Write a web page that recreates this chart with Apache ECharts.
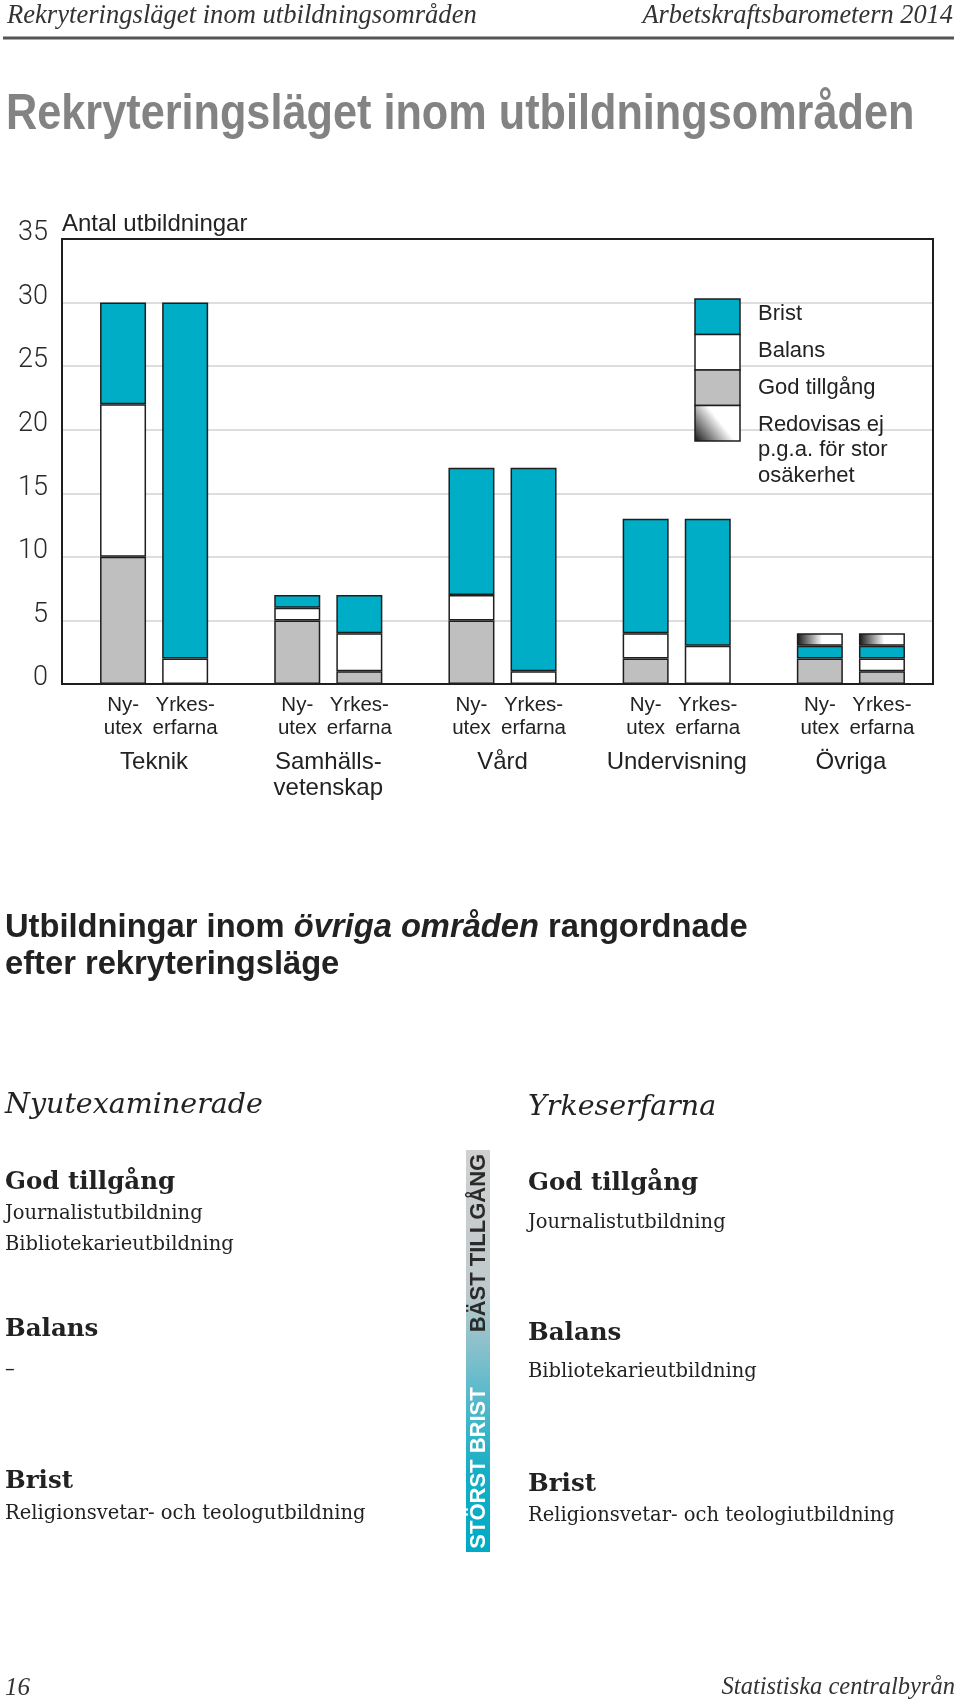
<!DOCTYPE html>
<html><head><meta charset="utf-8">
<script src="https://cdn.jsdelivr.net/npm/echarts@6/dist/echarts.min.js"></script>
<style>html,body{margin:0;padding:0;background:#fff}#c{width:960px;height:1705px}</style>
</head><body><div id="c"></div>
<script>
// ---------- data ----------
const categories = ['Teknik', 'Samhälls-\nvetenskap', 'Vård', 'Undervisning', 'Övriga'];
const subLabels = ['Ny-\nutex', 'Yrkes-\nerfarna'];
const yTicks = [0, 5, 10, 15, 20, 25, 30, 35];
// Nyutexaminerade (bottom -> top)
const nyGod    = [10, 5, 5, 2, 2];
const nyBalans = [12, 1, 2, 2, 0];
const nyBrist  = [8, 1, 10, 9, 1];
const nyRedov  = [0, 0, 0, 0, 1];
// Yrkeserfarna (bottom -> top)
const yrGod    = [0, 1, 0, 0, 1];
const yrBalans = [2, 3, 1, 3, 1];
const yrBrist  = [28, 3, 16, 10, 1];
const yrRedov  = [0, 0, 0, 0, 1];
const legendNames = ['Brist', 'Balans', 'God tillgång', 'Redovisas ej\np.g.a. för stor\nosäkerhet'];

const nyList = { title: 'Nyutexaminerade', god: ['Journalistutbildning', 'Bibliotekarieutbildning'], balans: ['–'], brist: ['Religionsvetar- och teologutbildning'] };
const yrList = { title: 'Yrkeserfarna', god: ['Journalistutbildning'], balans: ['Bibliotekarieutbildning'], brist: ['Religionsvetar- och teologiutbildning'] };

// ---------- style ----------
const SANS = "'Liberation Sans',Arial,sans-serif";
const SERIF = "'Liberation Serif','Times New Roman',serif";
const SERIF2 = "'DejaVu Serif',serif";
const TEAL = '#00adc6', GREY = '#bfbfbf', WHITE = '#ffffff', EDGE = '#1e1e1e', INK = '#222222';
const G = { left: 62, top: 239, width: 871, height: 445 };

const chart = echarts.init(document.getElementById('c'), null, { renderer: 'canvas' });
const redovBar = new echarts.graphic.LinearGradient(0, 0, 1, 0, [
  { offset: 0, color: '#151515' }, { offset: 0.55, color: '#ffffff' }, { offset: 1, color: '#ffffff' }]);
const redovLegend = new echarts.graphic.LinearGradient(0, 1, 1, 0, [
  { offset: 0, color: '#111111' }, { offset: 0.55, color: '#ffffff' }, { offset: 1, color: '#ffffff' }]);

function mk(name, stack, data, color) {
  return {
    type: 'bar', name, stack, xAxisIndex: 1, yAxisIndex: 1,
    barWidth: 46, barGap: '35%',
    data: data.map(v => (v === 0 ? '-' : v)),
    itemStyle: { color, borderColor: EDGE, borderWidth: 1.5 },
    emphasis: { disabled: true }, silent: true
  };
}
const series = [
  mk('God tillgång', 'ny', nyGod, GREY), mk('God tillgång', 'yr', yrGod, GREY),
  mk('Balans', 'ny', nyBalans, WHITE), mk('Balans', 'yr', yrBalans, WHITE),
  mk('Brist', 'ny', nyBrist, TEAL), mk('Brist', 'yr', yrBrist, TEAL),
  mk('Redovisas ej', 'ny', nyRedov, redovBar), mk('Redovisas ej', 'yr', yrRedov, redovBar)
];

function txt(text, x, y, o, extra) {
  o = o || {};
  return Object.assign({
    type: 'text', x, y, z: 50, silent: true,
    style: Object.assign({
      text, fill: INK, fontSize: 22, fontFamily: SANS,
      align: 'left', textAlign: 'left', verticalAlign: 'middle', textVerticalAlign: 'middle'
    }, o)
  }, extra || {});
}

const graphics = [];
// header
graphics.push(txt('Rekryteringsläget inom utbildningsområden', 7, 16, { fontFamily: SERIF, fontStyle: 'italic', fontSize: 26.6, fill: '#333' }));
graphics.push(txt('Arbetskraftsbarometern 2014', 953, 16, { fontFamily: SERIF, fontStyle: 'italic', fontSize: 26.4, fill: '#333', align: 'right', textAlign: 'right' }));
graphics.push({ type: 'line', z: 50, silent: true, shape: { x1: 3, y1: 38, x2: 954, y2: 38 }, style: { stroke: '#555', lineWidth: 3 } });
// big title (condensed by horizontal scale)
graphics.push(txt('Rekryteringsläget inom utbildningsområden', 6, 115, { fontFamily: SANS, fontWeight: 'bold', fontSize: 50, fill: '#838383' }, { scaleX: 0.865 }));
// axis title
graphics.push(txt('Antal utbildningar', 62, 224, { fontFamily: SANS, fontSize: 24 }));
// plot frame
graphics.push({ type: 'rect', z: 40, silent: true, shape: { x: G.left, y: G.top, width: G.width, height: G.height }, style: { fill: 'none', stroke: EDGE, lineWidth: 2 } });
// legend
const legendFills = [TEAL, WHITE, GREY, redovLegend];
legendNames.forEach((n, i) => {
  graphics.push({ type: 'rect', z: 45, silent: true, shape: { x: 695, y: 299 + i * 35.5, width: 45, height: 35.5 }, style: { fill: legendFills[i], stroke: EDGE, lineWidth: 1.5 } });
});
graphics.push(txt(legendNames[0], 758, 314));
graphics.push(txt(legendNames[1], 758, 351));
graphics.push(txt(legendNames[2], 758, 388));
graphics.push(txt(legendNames[3], 758, 412, { verticalAlign: 'top', textVerticalAlign: 'top', lineHeight: 25.5 }));

// lower section subtitle
graphics.push(txt('{b|Utbildningar inom }{bi|övriga områden}{b| rangordnade}', 5, 928, {
  rich: {
    b: { fontFamily: SANS, fontWeight: 'bold', fontSize: 32.7, fill: INK, color: INK },
    bi: { fontFamily: SANS, fontWeight: 'bold', fontStyle: 'italic', fontSize: 32.7, fill: INK, color: INK }
  }
}));
graphics.push(txt('efter rekryteringsläge', 5, 965, { fontWeight: 'bold', fontSize: 32.7 }));

function column(list, x, ys) {
  graphics.push(txt(list.title, x, ys.title, { fontFamily: SERIF2, fontStyle: 'italic', fontSize: 28.5 }));
  graphics.push(txt('God tillgång', x, ys.god, { fontFamily: SERIF2, fontWeight: 'bold', fontSize: 24.5 }));
  list.god.forEach((s, i) => graphics.push(txt(s, x, ys.godItems + i * 30.5, { fontFamily: SERIF2, fontSize: 19.5 })));
  graphics.push(txt('Balans', x, ys.balans, { fontFamily: SERIF2, fontWeight: 'bold', fontSize: 24.5 }));
  list.balans.forEach((s, i) => graphics.push(txt(s, x, ys.balansItems + i * 30.5, { fontFamily: SERIF2, fontSize: 19.5 })));
  graphics.push(txt('Brist', x, ys.brist, { fontFamily: SERIF2, fontWeight: 'bold', fontSize: 24.5 }));
  list.brist.forEach((s, i) => graphics.push(txt(s, x, ys.bristItems + i * 30.5, { fontFamily: SERIF2, fontSize: 19.5 })));
}
column(nyList, 5, { title: 1106, god: 1183, godItems: 1214, balans: 1330, balansItems: 1370, brist: 1482, bristItems: 1514 });
column(yrList, 528, { title: 1108, god: 1184, godItems: 1223, balans: 1334, balansItems: 1372, brist: 1485, bristItems: 1516 });

// scale bar
graphics.push({
  type: 'rect', z: 40, silent: true, shape: { x: 466, y: 1150, width: 24, height: 402 },
  style: { fill: new echarts.graphic.LinearGradient(0, 0, 0, 1, [
    { offset: 0, color: '#d0d0d0' }, { offset: 0.35, color: '#bfc9cc' }, { offset: 0.6, color: '#5cbacb' },
    { offset: 0.8, color: '#16aec5' }, { offset: 1, color: '#00aac4' }]) }
});
graphics.push(txt('BÄST TILLGÅNG', 479, 1243, { fontFamily: SANS, fontWeight: 'bold', fontSize: 22, fill: '#2a2a2a', align: 'center', textAlign: 'center' }, { rotation: Math.PI / 2 }));
graphics.push(txt('STÖRST BRIST', 479, 1468, { fontFamily: SANS, fontWeight: 'bold', fontSize: 22, fill: '#ffffff', align: 'center', textAlign: 'center' }, { rotation: Math.PI / 2 }));

// footer
graphics.push(txt('16', 5, 1688, { fontFamily: SERIF, fontStyle: 'italic', fontSize: 25, fill: '#333' }));
graphics.push(txt('Statistiska centralbyrån', 955, 1688, { fontFamily: SERIF, fontStyle: 'italic', fontSize: 24.5, fill: '#333', align: 'right', textAlign: 'right' }));

const option = {
  animation: false,
  backgroundColor: '#ffffff',
  grid: [
    { left: G.left, top: G.top, width: G.width, height: G.height },
    { left: G.left + 5, top: G.top, width: G.width, height: G.height }
  ],
  xAxis: [
    { type: 'value', gridIndex: 0, show: false, min: 0, max: 1 },
    {
      type: 'category', gridIndex: 1, data: categories,
      axisLine: { show: false }, axisTick: { show: false },
      axisLabel: {
        interval: 0, margin: 10, color: INK,
        formatter: function (v) {
          const a = subLabels[0].split('\n'), b = subLabels[1].split('\n');
          const g = v.split('\n').map(s => '{g|' + s + '}').join('\n');
          return '{n|' + a[0] + '}{n|' + b[0] + '}\n{n|' + a[1] + '}{n|' + b[1] + '}\n{sp| }\n' + g;
        },
        rich: {
          n: { width: 62, align: 'center', fontFamily: SANS, fontSize: 20.5, lineHeight: 23, color: INK },
          sp: { fontSize: 8, lineHeight: 10 },
          g: { fontFamily: SANS, fontSize: 24, lineHeight: 25.5, color: INK }
        }
      }
    }
  ],
  yAxis: [
    {
      type: 'value', gridIndex: 0, min: 0, max: 35, interval: 5,
      axisLine: { show: false }, axisTick: { show: false },
      splitLine: { lineStyle: { color: '#d2d2d2', width: 1.5 } },
      axisLabel: {
        margin: 14, fontFamily: 'Roboto', fontWeight: 300, fontSize: 27, color: '#2a2a2a',
        verticalAlign: 'bottom', lineHeight: 11,
        formatter: v => (yTicks.indexOf(v) >= 0 ? String(v) : '')
      }
    },
    { type: 'value', gridIndex: 1, min: 0, max: 35, interval: 5, show: false }
  ],
  series,
  graphic: graphics
};
chart.setOption(option);
</script>
</body></html>
